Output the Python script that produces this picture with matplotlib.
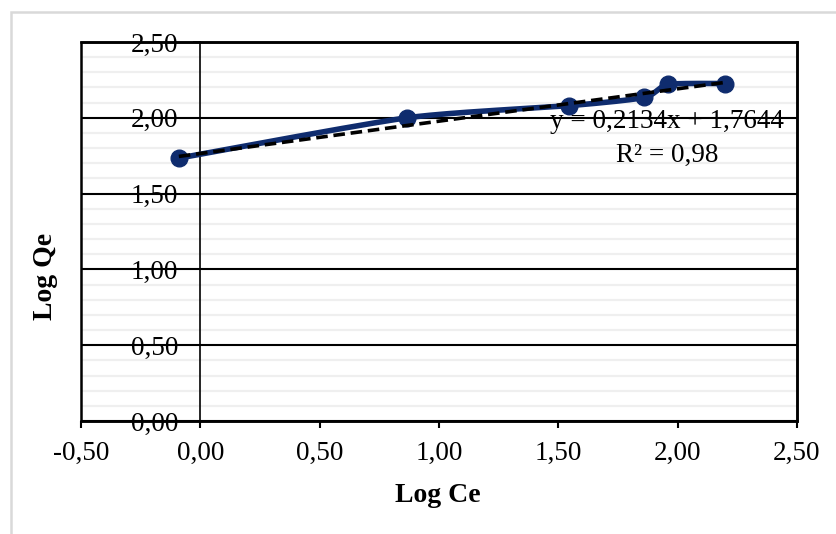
import numpy as np
import matplotlib
matplotlib.use("Agg")
import matplotlib.pyplot as plt
from matplotlib.patches import Rectangle
from matplotlib.ticker import MultipleLocator, FuncFormatter

# ---- data ----
log_ce = [-0.09, 0.866, 1.546, 1.86, 1.96, 2.20]
log_qe = [1.734, 2.00, 2.08, 2.134, 2.22, 2.226]
slope = 0.2134
intercept = 1.7644
r2 = 0.98
x_label = "Log Ce"
y_label = "Log Qe"
x_ticks = [-0.5, 0.0, 0.5, 1.0, 1.5, 2.0, 2.5]
y_ticks = [0.0, 0.5, 1.0, 1.5, 2.0, 2.5]

plt.rcParams['font.family'] = ['Liberation Serif', 'DejaVu Serif']

def comma(v, pos=None):
    return f"{v:.2f}".replace(".", ",").replace("-0,00", "0,00")

def smooth(xs, ys, n=40, k=9.0):
    # Bezier smoothing similar to Excel smoothed lines
    P = np.column_stack([xs, ys]).astype(float)
    P = np.vstack([P[0], P, P[-1]])
    out = []
    for i in range(1, len(P) - 2):
        p0, p1, p2, p3 = P[i - 1], P[i], P[i + 1], P[i + 2]
        c1 = p1 + (p2 - p0) / k
        c2 = p2 - (p3 - p1) / k
        t = np.linspace(0, 1, n)[:, None]
        seg = ((1 - t) ** 3) * p1 + 3 * ((1 - t) ** 2) * t * c1 + 3 * (1 - t) * t ** 2 * c2 + t ** 3 * p2
        out.append(seg if i == 1 else seg[1:])
    S = np.vstack(out)
    return S[:, 0], S[:, 1]

fig = plt.figure(figsize=(8.36, 5.34), dpi=100)
ax = fig.add_axes([81 / 836, 1 - 421 / 534, (797 - 81) / 836, (421 - 42) / 534])

# outer chart border
fig.patches.append(Rectangle((10.5 / 836, -0.1), 1.0, 1 - 12 / 534 + 0.1, transform=fig.transFigure,
                             fill=False, edgecolor='#d9d9d9', lw=1.8, zorder=0))

ax.set_xlim(-0.5, 2.5)
ax.set_ylim(0, 2.5)
ax.yaxis.set_minor_locator(MultipleLocator(0.1))
ax.set_xticks(x_ticks)
ax.set_yticks(y_ticks)
ax.xaxis.set_major_formatter(FuncFormatter(comma))
ax.yaxis.set_major_formatter(FuncFormatter(comma))

ax.grid(which='minor', axis='y', color='#efefef', lw=1.6, zorder=0)
ax.grid(which='major', axis='y', color='black', lw=1.5, zorder=1)
ax.grid(False, axis='x')
ax.set_axisbelow(True)

ax.spines['left'].set_position(('data', 0))
ax.spines['left'].set_linewidth(1.2)
for s in ['top', 'right', 'bottom']:
    ax.spines[s].set_linewidth(1.8)
    ax.spines[s].set_color('black')
ax.add_patch(Rectangle((0, 0), 1, 1, transform=ax.transAxes, fill=False, edgecolor='black',
                       lw=1.8, zorder=2, clip_on=False))

ax.tick_params(axis='x', which='major', direction='out', length=5, width=1.5, pad=9, labelsize=19.5)
ax.tick_params(axis='y', which='major', direction='out', length=5, width=1.2, pad=11, labelsize=19.5)
ax.tick_params(axis='y', which='minor', length=0)
for lab in ax.get_yticklabels():
    lab.set_zorder(5)

# data line
sx, sy = smooth(log_ce, log_qe)
ax.plot(sx, sy, color='#0f2c6e', lw=4.0, zorder=3, solid_capstyle='round')
ax.plot(log_ce, log_qe, 'o', color='#0f2c6e', ms=12, zorder=4)

# trendline
tx = np.array([min(log_ce), max(log_ce)])
ax.plot(tx, slope * tx + intercept, color='black', lw=2.6, ls=(0, (3.2, 1.6)), zorder=5)

eq_text = f"y = {slope:.4f}x + {intercept:.4f}".replace('.', ',')
r2_text = f"R² = {r2:.2f}".replace('.', ',')
ax.text(0.818, 0.789, eq_text, transform=ax.transAxes, ha='center', va='center', fontsize=19.5, zorder=6)
ax.text(0.818, 0.702, r2_text, transform=ax.transAxes, ha='center', va='center', fontsize=19.5, zorder=6)

fig.text(438 / 836, 1 - 496 / 534, x_label, ha='center', va='center', fontsize=20, fontweight='bold')
fig.text(45 / 836, 1 - 276 / 534, y_label, ha='center', va='center', fontsize=20, fontweight='bold',
         rotation=90)

fig.savefig("out.png", dpi=100)
